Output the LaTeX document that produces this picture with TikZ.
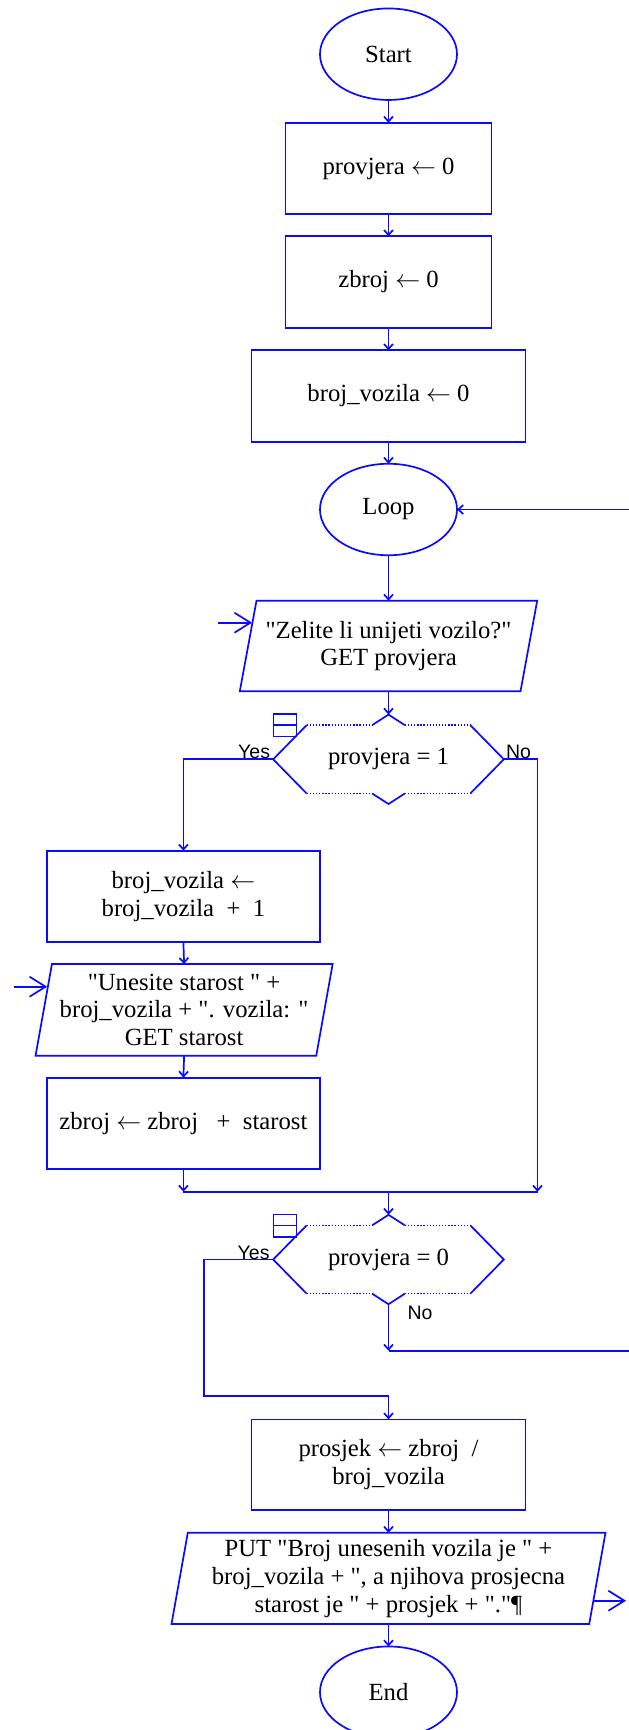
\documentclass[tikz,border=0pt]{standalone}
\usepackage{fontspec}
\setmainfont{Liberation Serif}[Ligatures=TeXOff]
\newfontfamily\labelfont{Liberation Sans}
\usetikzlibrary{arrows.meta,calc,shapes.geometric}

\definecolor{flowblue}{RGB}{10,10,255}
\newcommand\getsto{\ensuremath{\leftarrow}}

% input/output parallelogram drawn round a plain node; #2 = half the slant
\newcommand\ioshape[2]{%
  \draw[line] ($(#1.north west)+(#2,0)$) -- ($(#1.north east)+(#2,0)$)
    -- ($(#1.south east)-(#2,0)$) -- ($(#1.south west)-(#2,0)$) -- cycle;}

% selection hexagon with dotted top/bottom, notches and collapse icon
\newcommand\hexframe[1]{%
  \draw[line] ($(#1.north west)+(33.5,0)$) -- (#1.west) -- ($(#1.south west)+(33.5,0)$);
  \draw[line] ($(#1.north east)-(33.5,0)$) -- (#1.east) -- ($(#1.south east)-(33.5,0)$);
  \draw[dotline] ($(#1.north west)+(33.5,0)$) -- ($(#1.north)-(16.3,0)$);
  \draw[dotline] ($(#1.north)+(16.3,0)$) -- ($(#1.north east)-(33.5,0)$);
  \draw[dotline] ($(#1.south west)+(33.5,0)$) -- ($(#1.south)-(16.3,0)$);
  \draw[dotline] ($(#1.south)+(16.3,0)$) -- ($(#1.south east)-(33.5,0)$);
  \coordinate (#1-top) at ($(#1.north)+(0,-10.5)$);
  \coordinate (#1-bot) at ($(#1.south)+(0,10.5)$);
  \draw[line] ($(#1.north)-(16.3,0)$) -- (#1-top) -- ($(#1.north)+(16.3,0)$);
  \draw[line] ($(#1.south)-(16.3,0)$) -- (#1-bot) -- ($(#1.south)+(16.3,0)$);
  \draw[line, line width=1.3pt] ($(#1.west)+(0,-45.3)$) rectangle ($(#1.west)+(23,-22.6)$);
  \draw[line, line width=1.3pt] ($(#1.west)+(0,-34.3)$) -- ($(#1.west)+(23,-34.3)$);}

\begin{document}
\begin{tikzpicture}[x=1pt,y=-1pt,
  every node/.style={inner sep=0pt, outer sep=0pt},
  line/.style={draw=flowblue, line width=1.7pt},
  dotline/.style={draw=flowblue, line width=1.5pt, dash pattern=on 1.3pt off 1.8pt},
  flow/.style={line, -{Straight Barb[length=5pt,width=9pt]}},
  io/.style={line, -{Straight Barb[length=16pt,width=20pt]}},
  txt/.style={font=\fontsize{24.7}{27.8}\selectfont, align=center, text=black},
  procbox/.style={txt, draw=flowblue, line width=1.7pt, rectangle},
  term/.style={txt, draw=flowblue, line width=1.7pt, ellipse,
               minimum width=137, minimum height=91.5},
  plainbox/.style={txt, rectangle},
  lbl/.style={font=\labelfont\fontsize{19.5}{20}\selectfont, text=black}]

\fill[white] (0,0) rectangle (629,1730);
\path[use as bounding box] (0,0) rectangle (629,1730);
\clip (0,0) rectangle (629,1730);

% main column
\node[term] (start) at (388.5,54.2) {Start};
\node[procbox, minimum width=206, minimum height=91.5] (p0) at (388.5,168.5) {provjera \getsto{} 0};
\node[procbox, minimum width=206, minimum height=91.5] (z0) at (388.5,282) {zbroj \getsto{} 0};
\node[procbox, minimum width=274, minimum height=91.5] (b0) at (388.5,396) {broj\_vozila \getsto{} 0};
\node[term] (loop) at (388.5,509.5) {Loop};

\node[plainbox, minimum width=280.7, minimum height=90.6] (in1) at (388.5,646)
  {"Zelite li unijeti vozilo?"\\GET provjera};
\ioshape{in1}{8.35}

\node[plainbox, minimum width=230.6, minimum height=68.4] (dec1) at (388.5,759.3) {provjera = 1};
\hexframe{dec1}

% left branch
\node[procbox, minimum width=273, minimum height=91] (binc) at (183.4,896.2)
  {broj\_vozila \getsto\\broj\_vozila\ \ +\ \ 1};
\node[plainbox, minimum width=280.7, minimum height=91.7] (in2) at (184.1,1009.9)
  {"Unesite starost " +\\broj\_vozila + ". vozila: "\\GET starost};
\ioshape{in2}{8.2}
\node[procbox, minimum width=273, minimum height=91.3] (zadd) at (183.4,1123.3)
  {zbroj \getsto{} zbroj\ \ \ +\ \ starost};

\node[plainbox, minimum width=230.6, minimum height=68.4] (dec2) at (388.5,1259.5) {provjera = 0};
\hexframe{dec2}

\node[procbox, minimum width=274, minimum height=90.7] (avg) at (388.5,1464.7)
  {prosjek \getsto{} zbroj\ \ /\\broj\_vozila};
\node[plainbox, minimum width=417.7, minimum height=91.3] (out) at (388.5,1578.4)
  {PUT "Broj unesenih vozila je " +\\broj\_vozila + ", a njihova prosjecna\\starost je " + prosjek + "."¶};
\ioshape{out}{8.15}
\node[term] (end) at (388.5,1692.2) {End};

% branch labels
\node[lbl, anchor=base east] (yes1) at (270,758.5) {Yes};
\node[lbl, anchor=base west] (no1) at (506,758.5) {No};
\node[lbl, anchor=base east] (yes2) at (269.5,1259) {Yes};
\node[lbl, anchor=base west] (no2) at (407.5,1319) {No};

% junction points
\coordinate (noR) at (537.5,1191.7);
\coordinate (mergeL) at (183.4,1191.7);
\coordinate (mergeC) at (388.5,1191.7);
\coordinate (yesTurn) at (204.3,1396);
\coordinate (noTurn) at (388.5,1350.7);
\coordinate (backR) at (645,1350.7);
\coordinate (in1src) at (218,622.7);
\coordinate (in2src) at (14,986.7);
\coordinate (outdst) at (626,1600.7);

% connectors
\draw[flow] (start.south) -- (p0.north);
\draw[flow] (p0.south) -- (z0.north);
\draw[flow] (z0.south) -- (b0.north);
\draw[flow] (b0.south) -- (loop.north);
\draw[flow] (loop.south) -- (in1.north);
\draw[flow] (in1.south) -- (dec1-top);
\draw[flow] (dec1.west) -| (binc.north);
\draw[flow] (dec1.east) -| (noR);
\draw[flow] (binc.south) -- (in2.north);
\draw[flow] (in2.south) -- (zadd.north);
\draw[flow] (zadd.south) -- (mergeL);
\draw[line] (mergeL) -- (noR);
\draw[flow] (mergeC) -- (dec2-top);
\draw[flow] (dec2.west) -| (yesTurn) -| (avg.north);
\draw[flow] (dec2-bot) -- (noTurn);
\draw[flow] (noTurn) -- (backR) |- (loop.east);
\draw[flow] (avg.south) -- (out.north);
\draw[flow] (out.south) -- (end.north);

% input and output markers
\draw[io] (in1src) -- ($(in1.west)+(3.9,-23.3)$);
\draw[io] (in2src) -- ($(in2.west)+(3.45,-23.2)$);
\draw[io] ($(out.east)+(-4,22.3)$) -- (outdst);
\end{tikzpicture}
\end{document}
